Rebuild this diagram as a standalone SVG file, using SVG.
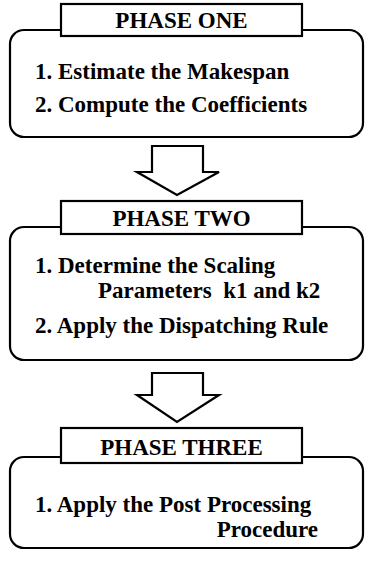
<svg xmlns="http://www.w3.org/2000/svg" width="366" height="565" viewBox="0 0 366 565">
<style>
.box{fill:#fff;stroke:#000;stroke-width:2.2}
.hdr{fill:#fff;stroke:#000;stroke-width:2.2}
.arr{fill:#fff;stroke:#000;stroke-width:2.2;stroke-linejoin:miter}
text{font-family:"Liberation Serif","Times New Roman",serif;font-weight:bold;font-size:23px;fill:#000}
.c{text-anchor:middle}
.r{text-anchor:end}
</style>
<rect width="366" height="565" fill="#fff"/>
<g id="phase1">
<rect class="box" x="10" y="30" width="353" height="107" rx="14"/>
<rect class="hdr" x="61" y="4" width="241" height="32"/>
<text class="c" x="181.5" y="28">PHASE ONE</text>
<text x="35" y="79">1. Estimate the Makespan</text>
<text x="35" y="112">2. Compute the Coefficients</text>
</g>
<g id="phase2">
<rect class="box" x="10" y="227" width="353" height="133" rx="14"/>
<rect class="hdr" x="61" y="201" width="241" height="33"/>
<text class="c" x="181.5" y="226">PHASE TWO</text>
<text x="35" y="273">1. Determine the Scaling</text>
<text x="98" y="298">Parameters&#160; k1 and k2</text>
<text x="35" y="333">2. Apply the Dispatching Rule</text>
</g>
<g id="phase3">
<rect class="box" x="10" y="457" width="353" height="91" rx="14"/>
<rect class="hdr" x="61" y="428" width="241" height="35"/>
<text class="c" x="181.5" y="455">PHASE THREE</text>
<text x="35" y="512">1. Apply the Post Processing</text>
<text class="r" x="318" y="537">Procedure</text>
</g>
<g id="connectors">
<polygon class="arr" points="152,146 203,146 203,172 219,172 177,195 137,172 152,172"/>
<polygon class="arr" points="152,373 203,373 203,395 219,395 177,422 137,395 152,395"/>
</g>
</svg>
